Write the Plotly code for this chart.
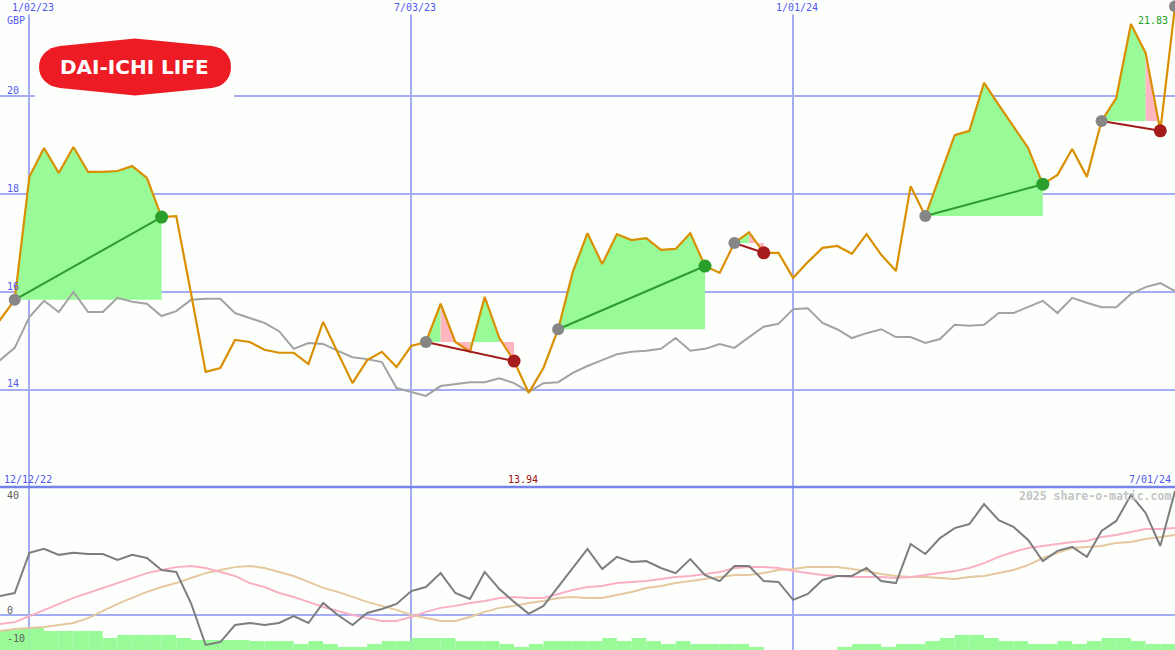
import pandas as pd
import plotly.graph_objects as go

W, H = 1175, 650
BG = "#FDFFFD"
GRID = "#A4ACF2"
SEP = "#7484EA"
BLUE = "#5058F0"
GREEN_FILL = "#98FB98"
PINK_FILL = "#FFB6C1"
ORANGE = "#D99000"
MONO = "DejaVu Sans Mono"

# ---------------- data ----------------
dates = pd.date_range("2022-12-12", periods=82, freq="7D")

price = [15.10, 15.43, 15.84, 18.35, 18.94, 18.43, 18.96, 18.45, 18.45, 18.47,
         18.57, 18.33, 17.53, 17.55, 15.98, 14.37, 14.45, 15.02, 14.98, 14.82,
         14.76, 14.76, 14.53, 15.39, 14.76, 14.14, 14.61, 14.78, 14.47, 14.90,
         14.98, 15.76, 14.98, 14.78, 15.90, 15.06, 14.59, 13.94, 14.45, 15.24,
         16.41, 17.20, 16.57, 17.18, 17.06, 17.10, 16.86, 16.88, 17.20, 16.53,
         16.39, 17.00, 17.22, 16.80, 16.80, 16.29, 16.61, 16.90, 16.94, 16.78,
         17.18, 16.76, 16.43, 18.16, 17.55, 18.39, 19.20, 19.29, 20.27, 19.82,
         19.37, 18.94, 18.20, 18.39, 18.92, 18.35, 19.49, 19.96, 21.47, 20.88,
         19.29, 21.83]

compare = [14.30, 14.61, 14.86, 15.49, 15.82, 15.59, 16.00, 15.59, 15.59, 15.88,
           15.80, 15.76, 15.51, 15.61, 15.84, 15.86, 15.86, 15.57, 15.47, 15.37,
           15.20, 14.84, 14.96, 14.94, 14.80, 14.67, 14.63, 14.57, 14.04, 13.96,
           13.88, 14.08, 14.12, 14.16, 14.16, 14.24, 14.14, 13.96, 14.14, 14.16,
           14.35, 14.49, 14.61, 14.73, 14.78, 14.80, 14.84, 15.06, 14.80, 14.84,
           14.94, 14.86, 15.08, 15.29, 15.35, 15.65, 15.67, 15.37, 15.24, 15.06,
           15.16, 15.24, 15.08, 15.08, 14.96, 15.04, 15.33, 15.31, 15.33, 15.57,
           15.57, 15.69, 15.82, 15.57, 15.88, 15.78, 15.69, 15.69, 15.96, 16.10,
           16.18, 16.02]

momentum = [6.0, 6.7, 7.7, 21.8, 23.2, 21.1, 21.8, 21.4, 21.4, 19.3,
            21.1, 20.0, 15.8, 15.1, 4.2, -10.5, -9.5, -3.5, -2.8, -3.5,
            -2.8, -0.4, -2.8, 4.2, 0.0, -3.5, 0.7, 2.1, 3.9, 8.4,
            9.8, 14.7, 7.7, 5.6, 15.1, 9.1, 4.6, 0.4, 3.2, 9.8,
            16.8, 23.2, 16.1, 20.4, 18.6, 18.9, 16.5, 14.7, 19.6, 14.0,
            11.9, 17.2, 17.2, 11.9, 11.6, 5.3, 7.4, 12.3, 13.7, 13.7,
            16.5, 11.9, 11.2, 24.9, 21.4, 27.0, 30.5, 31.9, 38.9, 33.3,
            30.9, 26.3, 18.9, 22.5, 23.9, 20.4, 29.5, 33.0, 42.1, 35.8,
            24.2, 43.5]

ma_fast = [-3.8, -3.2, -2.5, -0.4, 1.8, 3.9, 6.0, 7.7, 9.5, 11.2,
           13.0, 14.7, 15.8, 16.8, 17.2, 16.5, 15.1, 13.7, 11.2, 9.8,
           7.7, 6.3, 4.6, 2.8, 1.4, 0.0, -1.1, -2.1, -2.1, -0.7,
           1.1, 2.5, 3.2, 4.2, 4.9, 6.0, 6.3, 6.0, 6.0, 7.4,
           8.8, 9.8, 10.2, 11.2, 11.6, 11.9, 12.6, 13.3, 13.7, 14.4,
           15.1, 16.5, 16.8, 16.8, 16.5, 15.4, 14.7, 14.0, 13.7, 13.3,
           13.3, 13.3, 13.0, 13.3, 14.0, 14.7, 15.4, 16.5, 18.2, 20.4,
           22.1, 23.5, 24.2, 24.9, 25.6, 26.0, 27.4, 28.1, 29.1, 30.2,
           30.2, 30.5]

ma_slow = [-5.8, -5.6, -4.9, -4.6, -4.2, -3.5, -2.8, -1.1, 1.4, 3.9,
           6.0, 8.1, 9.8, 11.2, 13.0, 14.7, 15.8, 16.8, 17.2, 16.5,
           15.1, 13.7, 11.6, 9.5, 8.1, 6.3, 4.6, 3.2, 1.8, 0.0,
           -1.1, -2.1, -2.1, -0.7, 1.1, 2.5, 3.2, 4.2, 4.9, 6.0,
           6.3, 6.0, 6.0, 7.0, 8.1, 9.5, 10.2, 11.2, 11.9, 12.6,
           13.3, 14.0, 14.0, 14.7, 15.8, 16.1, 16.8, 16.8, 16.8, 16.1,
           15.4, 14.4, 13.7, 13.3, 13.3, 13.0, 12.6, 13.3, 13.7, 14.7,
           15.8, 17.5, 20.0, 21.8, 23.5, 23.9, 24.2, 25.3, 25.6, 26.7,
           27.4, 28.1]

# weekly volume (one value per week interval)
volume = [20, 20, 22, 22, 19, 19, 19, 19, 12, 15,
          15, 15, 15, 12, 10, 10, 10, 10, 9, 9,
          9, 6, 9, 6, 3, 3, 6, 9, 9, 12,
          12, 12, 9, 9, 9, 6, 3, 6, 9, 9,
          9, 9, 12, 9, 12, 9, 6, 9, 6, 6,
          6, 6, 3, 0, 0, 0, 0, 0, 3, 6,
          6, 3, 6, 6, 9, 12, 15, 15, 12, 9,
          9, 6, 6, 9, 6, 9, 12, 12, 9, 6,
          6]

trade_entry = [2, 30, 39, 51, 64, 76]
trade_exit = [12, 36, 49, 53, 72, 80]
pink_weeks = [31, 32, 35, 52, 79]

price_ticks = [14, 16, 18, 20]
osc_ticks = [40, 0, -10]
date_ticks = ["2023-01-02", "2023-07-03", "2024-01-01"]
date_tick_text = ["1/02/23", "7/03/23", "1/01/24"]

# ---------------- geometry ----------------
SPLIT = 163 / 650          # lower panel height fraction
TOP_RANGE = [12.02, 21.96]
OSC_RANGE = [-12.28, 44.91]
VOL_RANGE = [0, 163]
X_RANGE = ["2022-12-19", "2024-07-01"]


def px(x):
    return x / W


def py(y):
    return 1 - y / H


fig = go.Figure()

# trade shaded areas
for e, x in zip(trade_entry, trade_exit):
    base = price[e]
    k = e
    while k < x:
        is_pink = k in pink_weeks
        j = k
        while j < x and ((j in pink_weeks) == is_pink):
            j += 1
        xs = [dates[k]] + list(dates[k:j + 1]) + [dates[j]]
        ys = [base] + price[k:j + 1] + [base]
        fig.add_trace(go.Scatter(
            x=xs, y=ys, fill="toself",
            fillcolor=PINK_FILL if is_pink else GREEN_FILL,
            mode="lines", line=dict(width=0), hoverinfo="skip",
            xaxis="x", yaxis="y"))
        k = j

# comparison line
fig.add_trace(go.Scatter(x=dates, y=compare, mode="lines",
                         line=dict(color="#A3A3A3", width=2),
                         xaxis="x", yaxis="y"))
# price line
fig.add_trace(go.Scatter(x=dates, y=price, mode="lines",
                         line=dict(color=ORANGE, width=2.2),
                         xaxis="x", yaxis="y"))

# trade connectors and dots
for e, x in zip(trade_entry, trade_exit):
    win = price[x] >= price[e]
    lc = "#2E9B2E" if win else "#A31A1A"
    fig.add_trace(go.Scatter(x=[dates[e], dates[x]], y=[price[e], price[x]],
                             mode="lines", line=dict(color=lc, width=2),
                             xaxis="x", yaxis="y"))
    fig.add_trace(go.Scatter(x=[dates[e]], y=[price[e]], mode="markers",
                             marker=dict(color="#868686", size=12, line=dict(width=0)),
                             xaxis="x", yaxis="y"))
    fig.add_trace(go.Scatter(x=[dates[x]], y=[price[x]], mode="markers",
                             marker=dict(color="#2A9E2A" if win else "#A61C1C",
                                         size=13, line=dict(width=0)),
                             xaxis="x", yaxis="y"))
# last point dot
fig.add_trace(go.Scatter(x=[dates[-1]], y=[price[-1]], mode="markers",
                         marker=dict(color="#868686", size=12, line=dict(width=0)),
                         cliponaxis=False, xaxis="x", yaxis="y"))

# lower panel: volume bars
mid = dates[:-1] + pd.Timedelta(days=3.5)
fig.add_trace(go.Bar(x=mid, y=volume, width=7 * 86400000,
                     marker=dict(color=GREEN_FILL, line=dict(width=0)),
                     xaxis="x2", yaxis="y2"))
# oscillator lines
fig.add_trace(go.Scatter(x=dates, y=ma_slow, mode="lines",
                         line=dict(color="#E5C89E", width=2), xaxis="x2", yaxis="y3"))
fig.add_trace(go.Scatter(x=dates, y=ma_fast, mode="lines",
                         line=dict(color="#FAB0C4", width=2), xaxis="x2", yaxis="y3"))
fig.add_trace(go.Scatter(x=dates, y=momentum, mode="lines",
                         line=dict(color="#7E7E7E", width=2), xaxis="x2", yaxis="y3"))

axis_common = dict(showline=False, zeroline=False, showticklabels=False, ticks="")

fig.update_layout(
    width=W, height=H,
    margin=dict(l=0, r=0, t=0, b=0),
    paper_bgcolor=BG, plot_bgcolor=BG,
    showlegend=False, hovermode=False,
    xaxis=dict(type="date", range=X_RANGE, domain=[0, 1], anchor="y",
               tickvals=date_ticks, showgrid=True, gridcolor=GRID, gridwidth=2,
               **axis_common),
    yaxis=dict(range=TOP_RANGE, domain=[SPLIT, 1], anchor="x",
               tickvals=price_ticks, showgrid=True, gridcolor=GRID, gridwidth=2,
               **axis_common),
    xaxis2=dict(type="date", range=X_RANGE, domain=[0, 1], anchor="y2", matches="x",
                tickvals=date_ticks, showgrid=True, gridcolor=GRID, gridwidth=2,
                **axis_common),
    yaxis2=dict(range=VOL_RANGE, domain=[0, SPLIT], anchor="x2", showgrid=False,
                **axis_common),
    yaxis3=dict(range=OSC_RANGE, overlaying="y2", anchor="x2", tickvals=[0],
                showgrid=True, gridcolor=GRID, gridwidth=2, **axis_common),
)

shapes = []
# separator line between panels
shapes.append(dict(type="line", xref="paper", yref="paper", x0=0, x1=1,
                   y0=py(487), y1=py(487), line=dict(color=SEP, width=2.5),
                   layer="above"))
# logo backdrop + red badge
shapes.append(dict(type="rect", xref="paper", yref="paper",
                   x0=px(35), x1=px(234), y0=py(100), y1=py(32),
                   fillcolor=BG, line=dict(width=0), layer="above"))
logo_pts = ("M {a},{b} L {c},{d} L {e},{f} "
            "C {g1},{g2} {g3},{g4} {g5},{g6} "
            "C {h1},{h2} {h3},{h4} {h5},{h6} "
            "L {i1},{i2} L {j1},{j2} "
            "C {k1},{k2} {k3},{k4} {k5},{k6} "
            "C {l1},{l2} {l3},{l4} {l5},{l6} Z").format(
    a=px(60), b=py(46), c=px(135), d=py(38.5), e=px(212), f=py(46),
    g1=px(224), g2=py(47.5), g3=px(231), g4=py(56), g5=px(231), g6=py(67),
    h1=px(231), h2=py(78), h3=px(224), h4=py(86.5), h5=px(212), h6=py(88),
    i1=px(135), i2=py(95.5), j1=px(60), j2=py(88),
    k1=px(47), k2=py(86.5), k3=px(39), k4=py(78), k5=px(39), k6=py(67),
    l1=px(39), l2=py(56), l3=px(47), l4=py(47.5), l5=px(60), l6=py(46))
shapes.append(dict(type="path", xref="paper", yref="paper", path=logo_pts,
                   fillcolor="#ED1C24", line=dict(width=0), layer="above"))
fig.update_layout(shapes=shapes)

ann = []
# logo text
ann.append(dict(xref="paper", yref="paper", x=px(134), y=py(67),
                text="DAI-ICHI LIFE", showarrow=False, xanchor="center",
                yanchor="middle",
                font=dict(family="DejaVu Sans", size=20, color="white", weight="bold")))
# date labels at top
for d, t in zip(date_ticks, date_tick_text):
    ann.append(dict(xref="x", yref="paper", x=d, y=1, text=t, showarrow=False,
                    xanchor="center", yanchor="top", xshift=4, bgcolor=BG,
                    borderpad=1, font=dict(family=MONO, size=10, color=BLUE)))
# currency label
ann.append(dict(xref="paper", yref="paper", x=px(5), y=py(20), text="GBP",
                showarrow=False, xanchor="left", yanchor="middle",
                font=dict(family=MONO, size=10, color=BLUE)))
# price tick labels
for v in price_ticks:
    ann.append(dict(xref="paper", yref="y", x=px(5), y=v, text=str(v),
                    showarrow=False, xanchor="left", yanchor="middle", yshift=6,
                    font=dict(family=MONO, size=10, color=BLUE)))
# oscillator tick labels
for v in osc_ticks:
    ann.append(dict(xref="paper", yref="y3", x=px(5), y=v, text=str(v),
                    showarrow=False, xanchor="left", yanchor="middle", yshift=5,
                    font=dict(family=MONO, size=10, color="#5E5E5E")))
# range labels under the top panel
ann.append(dict(xref="paper", yref="paper", x=px(2), y=py(479),
                text=dates[0].strftime("%m/%d/%y"), showarrow=False,
                xanchor="left", yanchor="middle",
                font=dict(family=MONO, size=10, color=BLUE)))
ann.append(dict(xref="paper", yref="paper", x=px(1173), y=py(479),
                text=dates[-1].strftime("%-m/%d/%y"), showarrow=False,
                xanchor="right", yanchor="middle",
                font=dict(family=MONO, size=10, color=BLUE)))
# min and last value labels
imin = min(range(len(price)), key=lambda i: price[i])
ann.append(dict(xref="x", yref="paper", x=dates[imin], y=py(479),
                text=f"{price[imin]:.2f}", showarrow=False, xanchor="center",
                yanchor="middle", xshift=-6,
                font=dict(family=MONO, size=10, color="#A01010")))
ann.append(dict(xref="x", yref="y", x=dates[-1], y=price[-1],
                text=f"{price[-1]:.2f}", showarrow=False, xanchor="right",
                yanchor="top", xshift=-5, yshift=-7,
                font=dict(family=MONO, size=10, color="#22A022")))
# watermark
ann.append(dict(xref="paper", yref="paper", x=px(1173), y=py(496),
                text="2025 share-o-matic.com", showarrow=False, xanchor="right",
                yanchor="middle",
                font=dict(family=MONO, size=11.5, color="#C4C4C4", weight="bold")))
fig.update_layout(annotations=ann)

fig.write_html("out.html", config={"displayModeBar": False},
               post_script="document.body.style.margin='0px';"
                           "document.body.style.overflow='hidden';")
